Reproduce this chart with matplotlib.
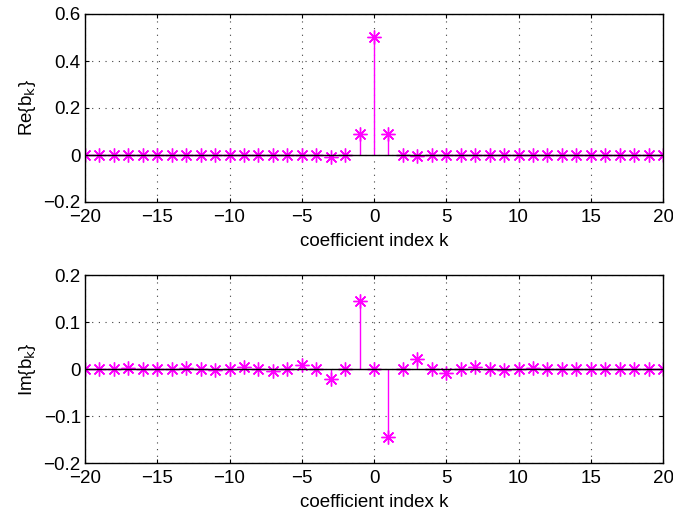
import numpy as np
import matplotlib
matplotlib.use("Agg")
import matplotlib.pyplot as plt

plt.rcParams['font.family'] = ['Liberation Sans', 'DejaVu Sans']

k = np.arange(-20, 21)

# real part: only k=0 and k=+-1 clearly nonzero, tiny dips at k=+-3
re_vals = {0: 0.5, -1: 0.09, 1: 0.09, -3: -0.007, 3: -0.006}
# imaginary part: odd k, alternating sign, decreasing magnitude
im_vals = {-1: 0.145, 1: -0.145, -3: -0.022, 3: 0.022, -5: 0.008, 5: -0.008,
           -7: -0.005, 7: 0.005, -9: 0.004, 9: -0.003, -11: -0.003, 11: 0.002,
           -13: 0.003, 13: -0.001, -15: -0.001, 15: 0.001, -17: 0.002, 17: -0.001}

re_b = np.array([re_vals.get(int(i), 0.0) for i in k])
im_b = np.array([im_vals.get(int(i), 0.0) for i in k])

fig = plt.figure(figsize=(6.73, 5.11), dpi=100)
ax1 = fig.add_axes([85/673, 1 - 202/511, 578/673, 188/511])
ax2 = fig.add_axes([85/673, 1 - 463/511, 578/673, 188/511])

xt = np.arange(-20, 21, 5)

def stem_plot(ax, y, ylim, yticks, ylabel):
    ml, sl, bl = ax.stem(k, y, linefmt='-', markerfmt='o', basefmt='k-')
    plt.setp(sl, color='magenta', linewidth=1)
    plt.setp(ml, color='magenta', marker=(8, 2, 0), markersize=10, markeredgewidth=1)
    plt.setp(bl, color='black', linewidth=1)
    ax.set_xlim(-20, 20)
    ax.set_ylim(*ylim)
    ax.set_xticks(xt)
    ax.set_yticks(yticks)
    ax.set_yticklabels([('%g' % t).replace('-', '\u2212') for t in yticks])
    ax.set_xticklabels([('%d' % t).replace('-', '\u2212') for t in xt])
    ax.grid(True, linestyle=(0, (1, 5)), color='0.25', linewidth=0.8)
    ax.tick_params(direction='in', top=True, right=True, labelsize=13.5,
                   length=3)
    ax.tick_params(axis='x', pad=5)
    ax.tick_params(axis='y', pad=3)
    ax.set_xlabel('coefficient index k', fontsize=13.5, labelpad=5)
    ax.set_ylabel(ylabel, fontsize=13.5, labelpad=4)
    for s in ax.spines.values():
        s.set_linewidth(1)

stem_plot(ax1, re_b, (-0.2, 0.6), [-0.2, 0, 0.2, 0.4, 0.6], r'Re{b$_\mathrm{k}$}')
stem_plot(ax2, im_b, (-0.2, 0.2), [-0.2, -0.1, 0, 0.1, 0.2], r'Im{b$_\mathrm{k}$}')

fig.savefig('out.png', dpi=100)
